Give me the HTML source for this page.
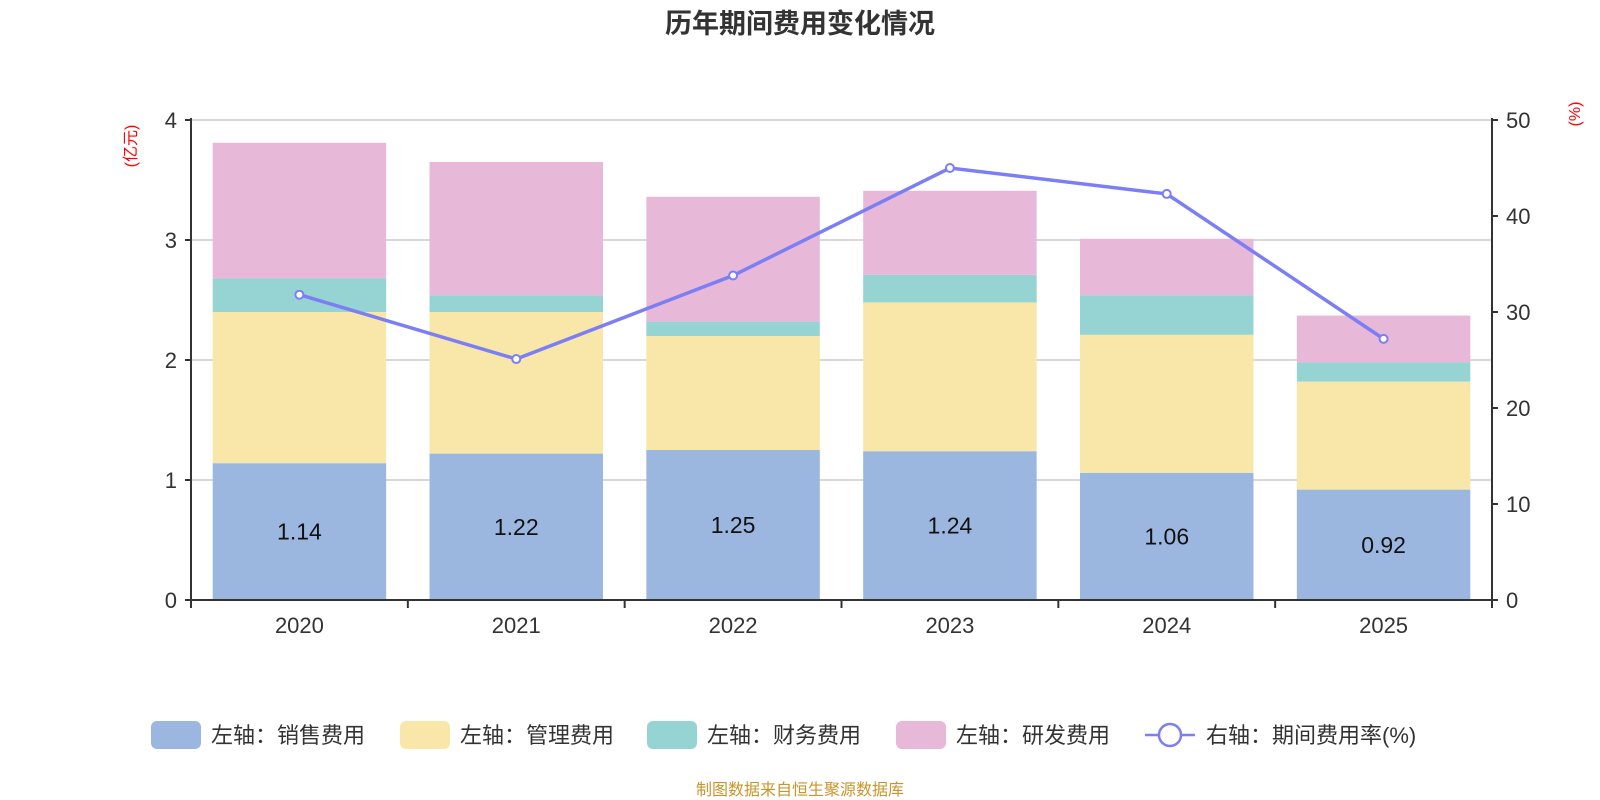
<!DOCTYPE html>
<html><head><meta charset="utf-8"><style>
body{margin:0;background:#fff}
svg{display:block;font-family:"Liberation Sans","Noto Sans CJK SC",sans-serif}
</style></head><body>
<svg id="c" width="1600" height="800"></svg>
<script>
const categories=["2020","2021","2022","2023","2024","2025"];
const sales=[1.14,1.22,1.25,1.24,1.06,0.92];
const mgmt=[1.26,1.18,0.95,1.24,1.15,0.90];
const fin=[0.28,0.14,0.12,0.23,0.33,0.16];
const rd=[1.13,1.11,1.04,0.70,0.47,0.39];
const rate=[31.8,25.1,33.8,45.0,42.3,27.2];
const leftTicks=[0,1,2,3,4];
const rightTicks=[0,10,20,30,40,50];
const seriesNames=["左轴：销售费用","左轴：管理费用","左轴：财务费用","左轴：研发费用"];
const colors=["#9bb7e0","#f8e7a9","#96d3d3","#e7b8d8"];

const NS="http://www.w3.org/2000/svg";
const svg=document.getElementById('c');
const X0=191,X1=1492,Y0=600,Y1=120;
const band=(X1-X0)/categories.length;
const yL=v=>Y0-(v/4)*(Y0-Y1);
const yR=v=>Y0-(v/50)*(Y0-Y1);
const xC=i=>X0+band*(i+0.5);
function el(t,a,txt){const e=document.createElementNS(NS,t);for(const k in a)e.setAttribute(k,a[k]);if(txt!==undefined)e.textContent=txt;svg.appendChild(e);return e;}

let t=el('text',{x:800,y:33,'text-anchor':'middle','font-size':27,'font-weight':'bold',fill:'#333'},'历年期间费用变化情况');



leftTicks.forEach(v=>{
 if(v>0){const g=el('line',{x1:X0,x2:X1,y1:yL(v),y2:yL(v),stroke:'#ccc','stroke-width':1.5});
 
 }
 const tk=el('line',{x1:X0-6,x2:X0,y1:yL(v),y2:yL(v),stroke:'#333','stroke-width':2});
 
 
 const l=el('text',{x:X0-14,y:yL(v)+8,'text-anchor':'end','font-size':22,fill:'#333'},String(v));
 
 
});
rightTicks.forEach(v=>{
 const tk=el('line',{x1:X1,x2:X1+6,y1:yR(v),y2:yR(v),stroke:'#333','stroke-width':2});
 
 
 const l=el('text',{x:X1+14,y:yR(v)+8,'font-size':22,fill:'#333'},String(v));
 
 
});

const stacks=[sales,mgmt,fin,rd];
categories.forEach((c,i)=>{
 let base=0;const bw=band*0.8,bx=xC(i)-bw/2;
 stacks.forEach((s,k)=>{
  const r=el('rect',{x:bx,y:yL(base+s[i]),width:bw,height:yL(base)-yL(base+s[i]),fill:colors[k]});
  
  
  base+=s[i];
 });
 const lb=el('text',{x:xC(i),y:(yL(0)+yL(sales[i]))/2+8,'text-anchor':'middle','font-size':23,fill:'#111'},sales[i].toFixed(2));
 
 
 const xl=el('text',{x:xC(i),y:633,'text-anchor':'middle','font-size':22,fill:'#333'},c);
 
 
});
for(let i=0;i<=categories.length;i++){
 const tk=el('line',{x1:X0+band*i,x2:X0+band*i,y1:Y0,y2:Y0+8,stroke:'#333','stroke-width':2});
 
 
}
let a=el('line',{x1:X0,x2:X0,y1:Y1-2,y2:Y0,stroke:'#333','stroke-width':2});


a=el('line',{x1:X1,x2:X1,y1:Y1-2,y2:Y0,stroke:'#333','stroke-width':2});


a=el('line',{x1:X0,x2:X1,y1:Y0,y2:Y0,stroke:'#333','stroke-width':2});



const pl=el('polyline',{points:rate.map((v,i)=>xC(i)+','+yR(v)).join(' '),fill:'none',stroke:'#7b7ef5','stroke-width':3.5});


rate.forEach((v,i)=>{
 const p=el('circle',{cx:xC(i),cy:yR(v),r:4,fill:'#fff',stroke:'#7b7ef5','stroke-width':2});
 
 
});

let u=el('text',{x:0,y:0,'font-size':16,fill:'red','text-anchor':'middle',transform:'translate(136,146) rotate(-90)'},'(亿元)');


u=el('text',{x:0,y:0,'font-size':16,fill:'red','text-anchor':'middle',transform:'translate(1580,114) rotate(-90)'},'(%)');



const lx=[151,400,647,896];
seriesNames.forEach((n,k)=>{
 const r=el('rect',{x:lx[k],y:721,width:50,height:28,rx:6,fill:colors[k]});
 
 
 const tx=el('text',{x:lx[k]+60,y:743,'font-size':22,fill:'#333'},n);
 
 
});
let ll=el('line',{x1:1145,x2:1195,y1:735,y2:735,stroke:'#7b7ef5','stroke-width':2.5});


ll=el('circle',{cx:1170,cy:735,r:11,fill:'#fff',stroke:'#7b7ef5','stroke-width':2.5});


ll=el('text',{x:1206,y:743,'font-size':22,fill:'#333'},'右轴：期间费用率(%)');



const src=el('text',{x:800,y:795,'text-anchor':'middle','font-size':16,fill:'#c9942a'},'制图数据来自恒生聚源数据库');


</script>
</body></html>
